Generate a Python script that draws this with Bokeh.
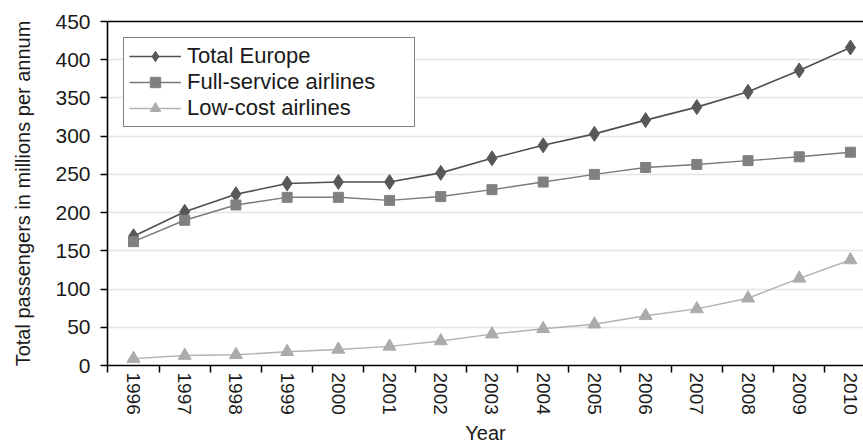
from bokeh.plotting import figure
from bokeh.models import FixedTicker, LinearAxis, Range1d
from bokeh.embed import file_html
from bokeh.resources import INLINE

years = [1996, 1997, 1998, 1999, 2000, 2001, 2002, 2003, 2004, 2005, 2006, 2007, 2008, 2009, 2010]
total_europe = [169, 201, 224, 238, 240, 240, 252, 271, 288, 303, 321, 338, 358, 386, 416]
full_service = [162, 190, 210, 220, 220, 216, 221, 230, 240, 250, 259, 263, 268, 273, 279]
low_cost = [9, 13, 14, 18, 21, 25, 32, 41, 48, 54, 65, 74, 88, 114, 138]
y_ticks = [0, 50, 100, 150, 200, 250, 300, 350, 400, 450]

FONT = "Liberation Sans"
TXT = "#1a1a1a"

p = figure(width=863, height=446, output_backend="svg", toolbar_location=None,
           x_range=Range1d(1995.492, 2010.255), y_range=Range1d(0, 450),
           min_border_left=107, min_border_right=0, min_border_top=21, min_border_bottom=80)
p.outline_line_color = None
p.background_fill_color = "white"
p.border_fill_color = "white"

# series
p.line(years, total_europe, line_color="#4f4f4f", line_width=1.6, legend_label="Total Europe")
p.scatter(years, total_europe, marker="diamond", size=15, fill_color="#585858", line_color="#585858",
          legend_label="Total Europe")
p.line(years, full_service, line_color="#7a7a7a", line_width=1.4, legend_label="Full-service airlines")
p.scatter(years, full_service, marker="square", size=10, fill_color="#808080", line_color="#808080",
          legend_label="Full-service airlines")
p.line(years, low_cost, line_color="#b2b2b2", line_width=1.4, legend_label="Low-cost airlines")
p.scatter(years, low_cost, marker="triangle", size=13, fill_color="#ababab", line_color="#ababab",
          legend_label="Low-cost airlines")

# x axis
xa = p.xaxis[0]
xa.ticker = FixedTicker(ticks=years, minor_ticks=[y - 0.5 for y in years])
xa.major_tick_line_color = None
xa.major_tick_out = 0
xa.major_tick_in = 0
xa.minor_tick_line_color = "black"
xa.minor_tick_line_width = 1.5
xa.minor_tick_out = 7
xa.minor_tick_in = 0
xa.axis_line_color = "black"
xa.axis_line_width = 1.6
xa.major_label_orientation = "vertical"
xa.major_label_standoff = 0
xa.major_label_text_font = FONT
xa.major_label_text_font_size = "19px"
xa.major_label_text_color = TXT
xa.axis_label = "Year"
xa.axis_label_text_font = FONT
xa.axis_label_text_font_size = "20px"
xa.axis_label_text_font_style = "normal"
xa.axis_label_text_color = TXT
xa.axis_label_standoff = 4

# y axis
ya = p.yaxis[0]
ya.ticker = FixedTicker(ticks=y_ticks)
ya.minor_tick_line_color = None
ya.major_tick_line_color = "black"
ya.major_tick_line_width = 1.5
ya.major_tick_out = 7
ya.major_tick_in = 0
ya.axis_line_color = "black"
ya.axis_line_width = 1.6
ya.major_label_standoff = 10
ya.major_label_text_font = FONT
ya.major_label_text_font_size = "21px"
ya.major_label_text_color = TXT
ya.axis_label = "Total passengers in millions per annum"
ya.axis_label_text_font = FONT
ya.axis_label_text_font_size = "20px"
ya.axis_label_text_font_style = "normal"
ya.axis_label_text_color = TXT
ya.axis_label_standoff = 18

# top border line
top = LinearAxis(ticker=FixedTicker(ticks=[]), axis_line_color="black", axis_line_width=1.6,
                 major_tick_line_color=None, minor_tick_line_color=None,
                 major_label_text_font_size="0px")
p.add_layout(top, "above")

# grid
p.xgrid.grid_line_color = None
p.ygrid.ticker = FixedTicker(ticks=y_ticks[1:-1])
p.ygrid.grid_line_color = "#e4e4e4"
p.ygrid.grid_line_width = 1.3

# legend
lg = p.legend[0]
lg.location = "top_left"
lg.margin = 16
lg.padding = 5
lg.spacing = 0
lg.glyph_width = 52
lg.glyph_height = 26
lg.label_height = 26
lg.label_width = 222
lg.label_standoff = 6
lg.label_text_font = FONT
lg.label_text_font_size = "22px"
lg.label_text_color = TXT
lg.border_line_color = "black"
lg.border_line_width = 1.6
lg.background_fill_color = "white"
lg.background_fill_alpha = 1.0

open("out.html", "w").write(file_html(p, INLINE))
